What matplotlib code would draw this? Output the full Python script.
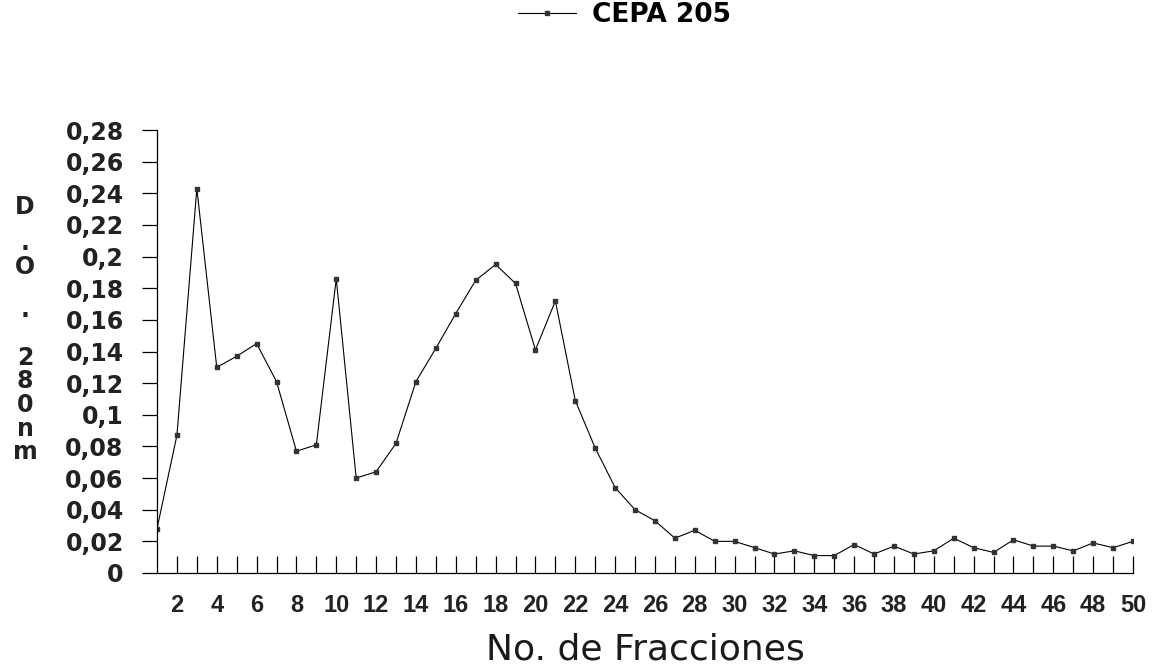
import numpy as np
import matplotlib
matplotlib.use("Agg")
import matplotlib.pyplot as plt
from matplotlib.ticker import FixedLocator, FuncFormatter

plt.rcParams['font.family'] = ['DejaVu Sans']

# Fracciones 1..50 y densidad optica a 280 nm
fracciones = list(range(1, 51))
do_280 = [0.028, 0.087, 0.243, 0.130, 0.137, 0.145, 0.121, 0.077, 0.081, 0.186,
          0.060, 0.064, 0.082, 0.121, 0.142, 0.164, 0.185, 0.195, 0.183, 0.141,
          0.172, 0.109, 0.079, 0.054, 0.040, 0.033, 0.022, 0.027, 0.020, 0.020,
          0.016, 0.012, 0.014, 0.011, 0.011, 0.018, 0.012, 0.017, 0.012, 0.014,
          0.022, 0.016, 0.013, 0.021, 0.017, 0.017, 0.014, 0.019, 0.016, 0.020]
serie = "CEPA 205"
y_ticks = [round(0.02 * i, 2) for i in range(15)]
x_label = "No. de Fracciones"
# etiqueta vertical "D.O. 280nm", en bloques
y_bloques = ["D", ".\nO", ".", "2\n8\n0\nn\nm"]

W, H = 1158, 669
fig = plt.figure(figsize=(W / 100, H / 100), dpi=100)
ax = fig.add_axes([157 / W, 1 - 573 / H, (1133 - 157) / W, (573 - 130) / H])

ax.plot(fracciones, do_280, color='black', lw=0.8, marker='s', ms=3.2,
        mfc='#333333', mec='#333333', label=serie)

ax.set_xlim(1, 50)
ax.set_ylim(0, 0.28)
ax.spines['top'].set_visible(False)
ax.spines['right'].set_visible(False)
for s in ['left', 'bottom']:
    ax.spines[s].set_linewidth(0.9)

# eje y
ax.yaxis.set_major_locator(FixedLocator(y_ticks))
ax.yaxis.set_major_formatter(FuncFormatter(lambda v, p: ('%g' % round(v, 2)).replace('.', ',')))
ax.tick_params(axis='y', direction='out', length=11, width=0.9, pad=13,
               labelsize=17)
for t in ax.get_yticklabels():
    t.set_fontweight('bold')
    t.set_color('#222222')

# eje x
ax.xaxis.set_major_locator(FixedLocator([f for f in fracciones if f % 2 == 0]))
ax.xaxis.set_minor_locator(FixedLocator([f for f in fracciones if f % 2 == 1 and f > 1]))
ax.tick_params(axis='x', which='both', direction='in', length=12, width=0.9,
               pad=15, labelsize=17)
for t in ax.get_xticklabels():
    t.set_fontfamily('Liberation Sans')
    t.set_fontweight('bold')
    t.set_color('#222222')

fig.text(645 / W, 1 - 650 / H, x_label, ha='center', va='center',
         fontsize=26, color='#1a1a1a')

y_pos = [207, 255, 310, 405]
for txt, yp in zip(y_bloques, y_pos):
    fig.text(25 / W, 1 - yp / H, txt, ha='center', va='center', fontsize=17,
             fontweight='bold', color='#222222', linespacing=0.98,
             multialignment='center')

fig.legend(loc='center left', bbox_to_anchor=(518 / W, 1 - 15 / H), frameon=False,
           borderaxespad=0, borderpad=0, handlelength=2.2, handletextpad=0.6,
           prop={'size': 19, 'weight': 'bold'})

fig.savefig("out.png", dpi=100)
